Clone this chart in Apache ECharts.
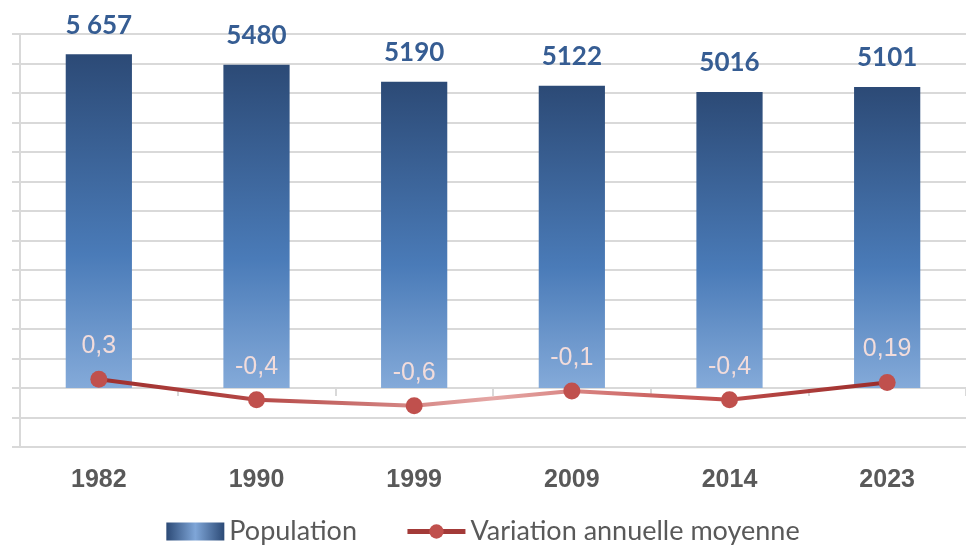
<!DOCTYPE html>
<html><head><meta charset="utf-8">
<script src="https://cdn.jsdelivr.net/npm/echarts@6/dist/echarts.min.js"></script>
<style>html,body{margin:0;padding:0;background:#fff}#c{width:966px;height:545px}</style>
</head><body><div id="c"></div>
<script>
var years = ['1982','1990','1999','2009','2014','2023'];
var population = [5657, 5480, 5190, 5122, 5016, 5101];
var popLabels = ['5 657','5480','5190','5122','5016','5101'];
var variation = [0.3, -0.4, -0.6, -0.1, -0.4, 0.19];
var varLabels = ['0,3','-0,4','-0,6','-0,1','-0,4','0,19'];

var chart = echarts.init(document.getElementById('c'));
var barGrad = new echarts.graphic.LinearGradient(0,0,0,1,[
  {offset:0,color:'#2C4A76'},{offset:0.6,color:'#4A7BB8'},{offset:1,color:'#84AAD9'}]);
var lineGrad = new echarts.graphic.LinearGradient(0,0,1,0,[
  {offset:0,color:'#9E2E2C'},{offset:0.2,color:'#B54846'},{offset:0.5,color:'#E5A7A5'},
  {offset:0.75,color:'#C65452'},{offset:1,color:'#992B29'}]);
chart.setOption({
  animation:false,
  grid:{left:20,right:0,top:34,bottom:98,containLabel:false,outerBoundsMode:'none'},
  legend:{top:513,left:'center',itemGap:48,itemWidth:58,itemHeight:18,
    textStyle:{fontSize:27,color:'#595959',fontFamily:'Lato'},
    data:[{name:'Population',icon:'rect',itemStyle:{color:new echarts.graphic.LinearGradient(0,0,1,0,[{offset:0,color:'#2C4A76'},{offset:0.5,color:'#7FA6D8'},{offset:1,color:'#2C4A76'}])}},
          {name:'Variation annuelle moyenne',lineStyle:{width:5,color:'#A33A38'},itemStyle:{color:'#C0504D'}}]},
  xAxis:{type:'category',data:years,
    axisLine:{show:true,onZero:true,lineStyle:{color:'#D9D9D9',width:2}},
    axisTick:{show:true,length:8,lineStyle:{color:'#D9D9D9',width:2}},
    axisLabel:{fontSize:25,fontWeight:'bold',color:'#595959',fontFamily:'Arial',margin:21}},
  yAxis:[{type:'value',min:-1000,max:6000,interval:500,
    axisLine:{show:true,lineStyle:{color:'#D9D9D9',width:2}},
    axisTick:{show:true,length:8,lineStyle:{color:'#D9D9D9',width:2}},
    axisLabel:{show:false},
    splitLine:{lineStyle:{color:'#D9D9D9',width:2}}},
   {type:'value',min:-2,max:12,interval:1,show:false,splitLine:{show:false}}],
  series:[{name:'Population',type:'bar',data:population,barWidth:'42%',
    itemStyle:{color:barGrad},
    label:{show:true,position:'top',distance:16,fontSize:26,fontWeight:'bold',color:'#365D93',fontFamily:'Lato',
      formatter:function(p){return popLabels[p.dataIndex];}}},
   {name:'Variation annuelle moyenne',type:'line',yAxisIndex:1,data:variation,
    symbol:'circle',symbolSize:17,
    itemStyle:{color:'#C0504D'},
    lineStyle:{width:4,color:lineGrad},
    label:{show:true,position:'top',distance:12,fontSize:25,color:'#F2DCDB',fontFamily:'Arial',
      formatter:function(p){return varLabels[p.dataIndex];}},
    z:5}]
});
</script></body></html>
